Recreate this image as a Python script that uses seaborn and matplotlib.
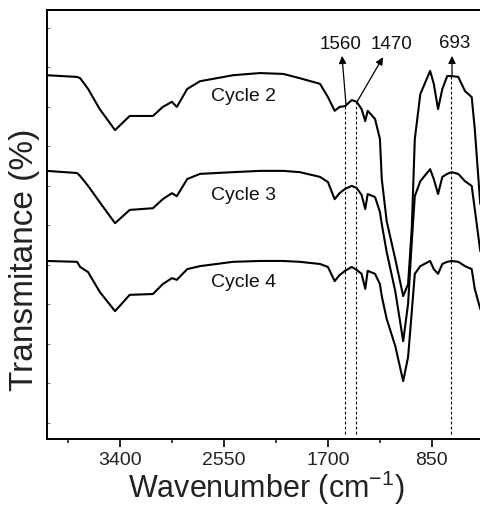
import matplotlib
matplotlib.use("Agg")
import matplotlib.pyplot as plt
import seaborn as sns
import pandas as pd
from matplotlib.ticker import FixedLocator

# ---- data (transmittance in arbitrary units) ----
wavenumber = [4000, 3750, 3725, 3660, 3565, 3440, 3320, 3130, 3050, 2975,
              2935, 2850, 2745, 2475, 2255, 2065, 1930, 1765, 1700, 1645,
              1605, 1560, 1505, 1465, 1425, 1395, 1375, 1315, 1275, 1260,
              1220, 1150, 1085, 1045, 1015, 990, 945, 865, 835, 800,
              765, 725, 690, 635, 580, 525, 500, 455]

cycle2 = [84.8, 84.4, 84.1, 81.6, 76.9, 72.0, 75.3, 75.3, 77.4, 78.6,
          77.4, 81.6, 83.4, 84.8, 85.3, 85.1, 84.1, 82.8, 79.7, 76.5,
          77.4, 77.6, 79.0, 78.6, 76.9, 74.1, 76.5, 74.6, 69.9, 60.6,
          50.8, 42.0, 33.3, 36.1, 49.0, 69.9, 80.4, 85.8, 82.8, 76.9,
          81.6, 84.6, 84.6, 84.4, 81.1, 79.7, 72.3, 54.8]

cycle3 = [62.5, 62.0, 61.3, 59.0, 55.2, 50.3, 53.4, 53.8, 55.9, 57.3,
          56.6, 60.6, 61.8, 62.2, 62.5, 62.5, 62.2, 61.1, 59.9, 55.9,
          57.3, 58.3, 59.0, 58.5, 56.9, 53.6, 57.1, 56.4, 52.9, 50.1,
          43.6, 34.5, 22.8, 31.5, 45.9, 56.6, 60.1, 62.9, 60.6, 57.1,
          61.1, 61.8, 62.2, 61.8, 60.1, 59.0, 53.6, 43.8]

cycle4 = [41.5, 41.3, 40.1, 38.9, 34.3, 29.8, 33.6, 33.8, 36.1, 37.5,
          37.1, 39.6, 40.3, 41.3, 41.5, 41.5, 41.3, 40.8, 40.1, 36.8,
          38.2, 39.2, 40.1, 39.4, 38.5, 35.0, 39.2, 38.5, 36.1, 33.3,
          28.0, 21.7, 13.5, 19.1, 29.6, 38.5, 40.3, 41.5, 39.6, 38.5,
          40.8, 41.3, 41.5, 41.3, 40.3, 39.6, 35.0, 30.3]

series_names = ["Cycle 2", "Cycle 3", "Cycle 4"]
label_pos_wn = [2386, 2386, 2386]
label_pos_t = [80.0, 57.1, 36.8]

peak_labels = ["1560", "1470", "693"]
peak_wn = [1560, 1470, 693]
peak_top = [77.6, 78.6, 84.6]
arrow_start = [(1553, 78.1), (1462, 78.6), (686, 84.6)]
arrow_tip = [(1585, 89.3), (1250, 89.0), (686, 89.3)]
peak_text_pos = [(1593, 92.1), (1184, 92.1), (662, 92.5)]

xticks_major = [3400, 2550, 1700, 850]
xticks_minor = [3825, 2975, 2125, 1275, 425]

# ---- build table ----
frames = []
for name, vals in zip(series_names, [cycle2, cycle3, cycle4]):
    frames.append(pd.DataFrame({"wn": wavenumber, "T": vals, "cycle": name}))
df = pd.concat(frames, ignore_index=True)

sns.set_style("ticks")
plt.rcParams["font.family"] = ["Liberation Sans", "DejaVu Sans"]
plt.rcParams["mathtext.fontset"] = "custom"
plt.rcParams["mathtext.rm"] = "Liberation Sans"
plt.rcParams["mathtext.it"] = "Liberation Sans:italic"
plt.rcParams["mathtext.bf"] = "Liberation Sans:bold"

fig = plt.figure(figsize=(4.81, 5.06), dpi=100)
W, H = 481, 506
ax = fig.add_axes([46.5 / W, (H - 440) / H, (487 - 46.5) / W, 429 / H])

sns.lineplot(data=df, x="wn", y="T", units="cycle", estimator=None, sort=False,
             color="black", lw=1.5, ax=ax)

ax.set_xlim(4000, 400)
ax.set_ylim(0, 100)

# dashed marker lines
for wn, top in zip(peak_wn, peak_top):
    ax.vlines(wn, 1.2, top, colors="black", linestyles=(0, (2.5, 2)), lw=0.8)

for (xs, ys), (xt, yt) in zip(arrow_start, arrow_tip):
    ax.annotate("", xy=(xt, yt), xytext=(xs, ys),
                arrowprops=dict(arrowstyle="-|>", color="black", lw=0.9,
                                mutation_scale=11, shrinkA=0, shrinkB=0))
for lab, (xp, yp) in zip(peak_labels, peak_text_pos):
    ax.text(xp, yp, lab, ha="center", va="center", fontsize=13.5, color="#111111")

for name, xp, yp in zip(series_names, label_pos_wn, label_pos_t):
    ax.text(xp, yp, name, ha="center", va="center", fontsize=14, color="#111111")

# ticks
ax.xaxis.set_major_locator(FixedLocator(xticks_major))
ax.xaxis.set_minor_locator(FixedLocator(xticks_minor))
ax.tick_params(axis="x", which="major", direction="out", length=5.5, width=1.2,
               labelsize=14, pad=3, colors="black")
ax.tick_params(axis="x", which="minor", direction="out", length=3, width=1.2)
ytick_pos = [95.8, 86.7, 77.4, 68.3, 59.0, 49.9, 40.6, 31.5, 22.1, 13.1, 3.7]
ax.yaxis.set_major_locator(FixedLocator(ytick_pos))
ax.tick_params(axis="y", which="major", direction="in", length=2.5, width=0.6,
               labelleft=False, colors="#555555")
ax.set_xticklabels([str(v) for v in xticks_major], color="#222222")

for side in ["left", "bottom", "top", "right"]:
    ax.spines[side].set_linewidth(1.4)
    ax.spines[side].set_color("black")

ax.set_xlabel("Wavenumber (cm$^{-1}$)", fontsize=22, color="#222222")
ax.xaxis.label.set_va("baseline")
ax.xaxis.set_label_coords(0.5, (440 - 498) / 429)
ax.set_ylabel("Transmitance (%)", fontsize=24, color="#222222")
ax.yaxis.label.set_va("center")
ax.yaxis.set_label_coords((25 - 46.5) / 440.5, (440 - 260) / 429)

fig.savefig("out.png", dpi=100)
